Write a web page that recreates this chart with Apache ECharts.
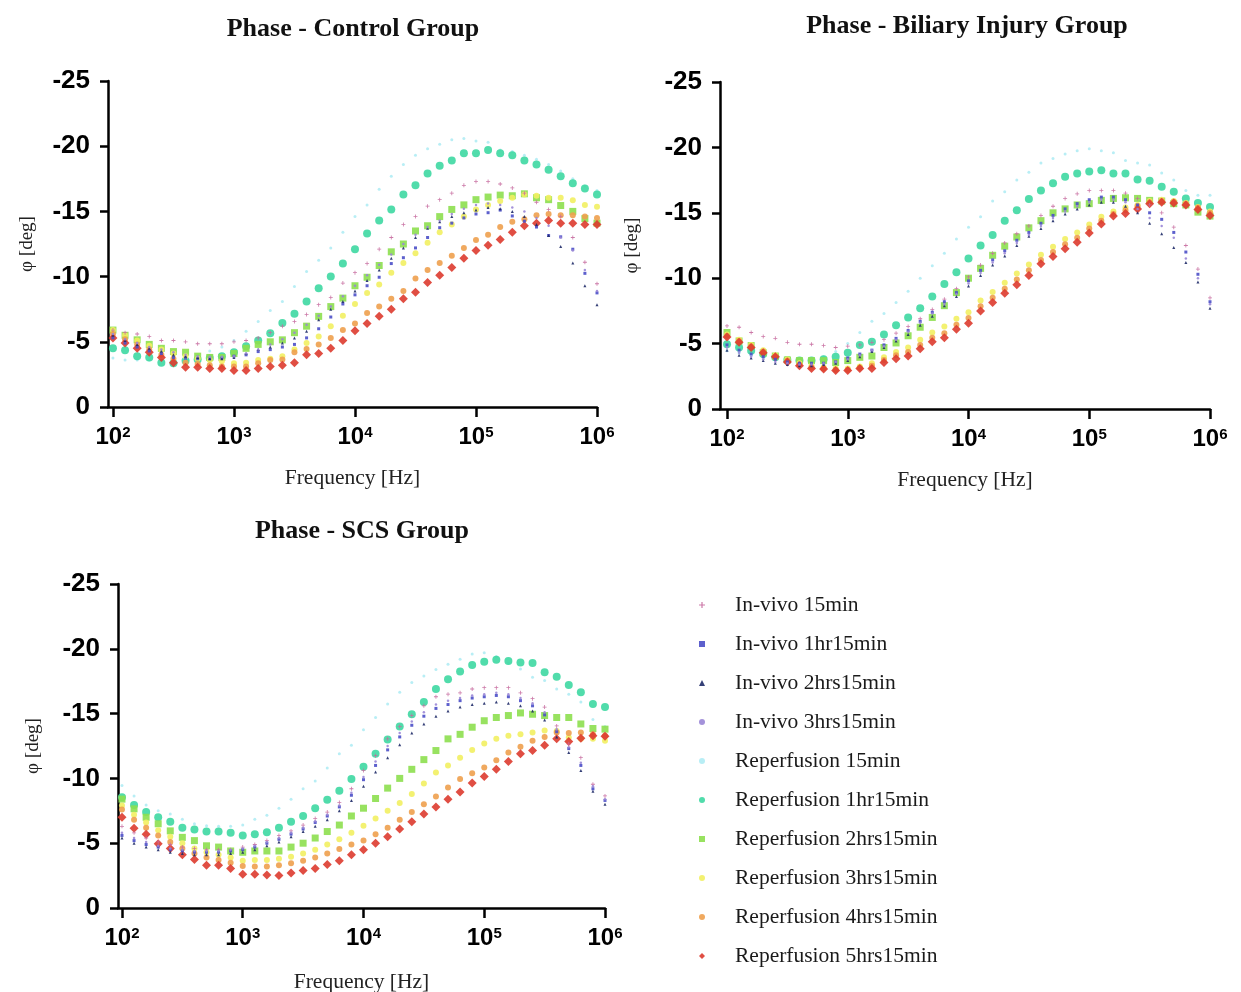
<!DOCTYPE html>
<html>
<head>
<meta charset="utf-8">
<title>Phase</title>
<script src="https://cdn.jsdelivr.net/npm/echarts@6/dist/echarts.min.js"></script>
<style>
  html, body { margin: 0; padding: 0; background: #fff; }
  #chart { width: 1241px; height: 992px; }
</style>
</head>
<body>
<div id="chart"></div>
<script>
// frequency sweep, 10 points per decade (Hz)
const freqHz = [100, 125.9, 158.5, 199.5, 251.2, 316.2, 398.1, 501.2, 631, 794.3,
  1000, 1259, 1585, 1995, 2512, 3162, 3981, 5012, 6310, 7943,
  10000, 12589, 15849, 19953, 25119, 31623, 39811, 50119, 63096, 79433,
  100000, 125893, 158489, 199526, 251189, 316228, 398107, 501187, 630957, 794328, 1000000]
const xTickValues = [100, 1000, 10000, 100000, 1000000]

const seriesNames = ['In-vivo 15min', 'In-vivo 1hr15min', 'In-vivo 2hrs15min', 'In-vivo 3hrs15min',
  'Reperfusion 15min', 'Reperfusion 1hr15min', 'Reperfusion 2hrs15min', 'Reperfusion 3hrs15min',
  'Reperfusion 4hrs15min', 'Reperfusion 5hrs15min']
const groupTitles = ['Phase - Control Group', 'Phase - Biliary Injury Group', 'Phase - SCS Group']

// phase [deg] - control group
const c_iv15 = [-5.9, -5.7, -5.6, -5.4, -5.1, -5.1, -5.0, -4.85, -4.85, -4.85, -5.0, -5.1, -5.3, -5.7, -6.2, -6.55, -7.1, -7.85, -8.4, -9.5, -10.3, -11.0, -12.1, -13.0, -14.0, -14.6, -15.4, -15.9, -16.4, -17.0, -17.3, -17.3, -17.1, -16.8, -16.4, -15.7, -15.15, -14.6, -13.0, -11.1, -9.45]
const c_iv1h = [-5.3, -4.9, -4.6, -4.3, -4.1, -3.8, -3.75, -3.7, -3.7, -3.75, -3.9, -4.0, -4.25, -4.4, -4.6, -4.8, -5.3, -6.0, -6.9, -7.9, -8.6, -9.3, -9.95, -11.0, -11.45, -12.2, -13.0, -13.75, -14.1, -14.5, -14.8, -14.9, -15.1, -14.65, -14.25, -13.8, -13.15, -13.05, -12.1, -10.25, -8.75]
const c_iv2h = [-5.5, -5.1, -4.8, -4.5, -4.3, -4.0, -3.9, -3.8, -3.7, -3.7, -3.8, -4.1, -4.4, -4.6, -4.9, -5.3, -5.8, -6.7, -7.5, -8.1, -8.9, -9.7, -10.5, -11.4, -12.2, -13.0, -13.7, -14.2, -14.6, -14.9, -15.1, -15.3, -15.2, -15.0, -14.6, -14.0, -13.15, -12.3, -11.05, -9.3, -7.85]
const c_iv3h = [-5.6, -5.2, -4.9, -4.6, -4.4, -4.2, -4.0, -3.9, -3.85, -3.85, -3.9, -4.1, -4.4, -4.8, -5.2, -5.7, -6.3, -7.0, -7.7, -8.5, -9.3, -10.1, -10.9, -11.7, -12.5, -13.2, -13.8, -14.3, -14.8, -15.2, -15.5, -15.6, -15.5, -15.3, -15.0, -14.5, -13.9, -13.0, -12.0, -10.5, -8.9]
const c_rp15 = [-3.75, -3.6, -3.6, -3.6, -3.6, -3.7, -3.8, -4.0, -4.3, -4.6, -5.1, -5.8, -6.55, -7.4, -8.1, -9.25, -10.4, -11.25, -12.2, -13.4, -14.6, -15.5, -16.7, -17.7, -18.6, -19.3, -19.8, -20.15, -20.5, -20.6, -20.4, -20.3, -19.7, -19.6, -19.3, -19.0, -18.6, -18.1, -17.5, -16.95, -16.6]
const c_rp1h = [-4.5, -4.35, -3.9, -3.8, -3.4, -3.35, -3.55, -3.65, -3.75, -3.9, -4.2, -4.65, -5.1, -5.65, -6.45, -7.15, -8.1, -9.1, -10.0, -11.0, -12.1, -13.3, -14.3, -15.15, -16.3, -17.0, -17.9, -18.5, -18.9, -19.45, -19.45, -19.7, -19.45, -19.3, -18.9, -18.6, -18.2, -17.7, -17.15, -16.75, -16.3]
const c_rp2h = [-5.9, -5.5, -5.15, -4.8, -4.5, -4.25, -4.2, -3.9, -3.8, -3.8, -4.1, -4.5, -4.8, -5.0, -5.15, -5.7, -6.2, -6.95, -7.7, -8.35, -9.3, -9.95, -10.85, -11.9, -12.5, -13.5, -13.9, -14.6, -15.15, -15.5, -15.9, -16.1, -16.25, -16.2, -16.35, -16.05, -15.9, -15.45, -15.0, -14.45, -14.1]
const c_rp3h = [-5.9, -5.5, -5.1, -4.7, -4.4, -4.1, -3.9, -3.7, -3.6, -3.5, -3.35, -3.4, -3.6, -3.7, -3.9, -4.4, -4.9, -5.4, -6.2, -7.0, -7.9, -8.75, -9.4, -10.3, -11.05, -11.8, -12.6, -13.4, -14.0, -14.6, -15.15, -15.5, -15.8, -16.05, -16.3, -16.2, -16.05, -16.05, -15.85, -15.5, -15.35]
const c_rp4h = [-5.6, -5.2, -4.8, -4.4, -4.0, -3.7, -3.4, -3.3, -3.2, -3.1, -3.1, -3.1, -3.35, -3.6, -3.65, -4.2, -4.45, -4.8, -5.3, -5.9, -6.4, -7.2, -7.7, -8.3, -8.9, -9.85, -10.5, -11.05, -11.6, -12.2, -12.8, -13.2, -13.8, -14.2, -14.4, -14.7, -14.8, -14.7, -14.7, -14.6, -14.5]
const c_rp5h = [-5.3, -4.9, -4.5, -4.2, -3.8, -3.4, -3.05, -3.05, -2.95, -2.95, -2.8, -2.8, -2.95, -3.1, -3.2, -3.4, -4.0, -4.1, -4.5, -5.1, -5.85, -6.4, -6.95, -7.5, -8.3, -8.8, -9.55, -10.1, -10.7, -11.4, -12.0, -12.4, -12.85, -13.4, -13.9, -14.1, -14.3, -14.1, -14.1, -14.0, -14.0]

// phase [deg] - biliary injury group
const b_iv15 = [-6.35, -6.25, -5.85, -5.55, -5.4, -5.1, -4.95, -4.95, -4.85, -4.7, -4.8, -4.9, -5.1, -5.3, -5.8, -6.3, -6.9, -7.6, -8.4, -9.2, -10.1, -11.0, -11.9, -12.7, -13.4, -14.0, -14.8, -15.5, -16.1, -16.45, -16.7, -16.7, -16.7, -16.5, -16.1, -15.6, -15.0, -13.9, -12.5, -10.7, -8.5]
const b_iv1h = [-4.9, -4.5, -4.2, -4.0, -3.8, -3.6, -3.5, -3.5, -3.5, -3.6, -3.9, -4.2, -4.5, -4.9, -5.4, -6.0, -6.7, -7.4, -8.2, -8.9, -9.8, -10.6, -11.4, -12.1, -12.9, -13.5, -14.2, -14.8, -15.3, -15.7, -16.0, -16.2, -16.2, -16.0, -15.6, -15.0, -14.5, -13.5, -12.0, -10.3, -8.2]
const b_iv2h = [-4.5, -4.1, -3.9, -3.7, -3.5, -3.4, -3.3, -3.3, -3.4, -3.5, -3.7, -4.0, -4.4, -4.7, -5.2, -5.7, -6.4, -7.1, -7.9, -8.6, -9.4, -10.2, -11.0, -11.7, -12.5, -13.2, -13.8, -14.4, -14.9, -15.3, -15.6, -15.8, -15.8, -15.5, -15.0, -14.2, -13.4, -12.35, -11.2, -9.7, -7.7]
const b_iv3h = [-4.7, -4.3, -4.0, -3.8, -3.6, -3.5, -3.4, -3.4, -3.5, -3.6, -3.8, -4.1, -4.5, -4.8, -5.3, -5.9, -6.6, -7.3, -8.0, -8.8, -9.6, -10.4, -11.2, -11.9, -12.7, -13.3, -14.0, -14.6, -15.1, -15.5, -15.8, -16.0, -16.0, -15.8, -15.3, -14.6, -14.0, -13.1, -11.5, -10.0, -8.0]
const b_rp15 = [-4.45, -4.3, -4.1, -3.9, -3.8, -3.7, -3.7, -3.8, -4.0, -4.4, -5.0, -5.85, -6.7, -7.3, -8.15, -9.0, -10.0, -10.95, -11.9, -13.0, -13.9, -14.7, -15.9, -16.6, -17.5, -18.1, -18.8, -19.15, -19.5, -19.75, -19.9, -19.75, -19.6, -19.0, -18.8, -18.65, -18.05, -17.5, -16.7, -16.35, -16.35]
const b_rp1h = [-4.95, -4.7, -4.45, -4.2, -3.95, -3.75, -3.7, -3.7, -3.8, -4.0, -4.3, -4.9, -5.15, -5.7, -6.4, -7.0, -7.7, -8.6, -9.55, -10.45, -11.5, -12.5, -13.3, -14.4, -15.2, -16.05, -16.7, -17.25, -17.75, -18.0, -18.15, -18.25, -18.0, -18.0, -17.55, -17.45, -17.0, -16.6, -16.1, -15.75, -15.45]
const b_rp2h = [-5.85, -5.2, -4.85, -4.3, -4.05, -3.75, -3.7, -3.7, -3.7, -3.55, -3.7, -3.95, -4.05, -4.7, -5.05, -5.6, -6.25, -7.0, -7.9, -8.9, -10.0, -10.75, -11.75, -12.45, -13.15, -13.85, -14.4, -15.0, -15.3, -15.6, -15.7, -15.95, -16.1, -16.15, -16.1, -15.95, -15.9, -15.7, -15.6, -15.05, -14.75]
const b_rp3h = [-5.7, -5.3, -4.9, -4.5, -4.1, -3.8, -3.5, -3.3, -3.2, -3.1, -3.1, -3.25, -3.5, -3.95, -4.35, -4.7, -5.3, -5.85, -6.3, -6.9, -7.4, -8.3, -8.95, -9.65, -10.35, -11.05, -11.8, -12.4, -13.0, -13.5, -14.1, -14.7, -15.1, -15.4, -15.6, -15.9, -16.0, -15.9, -15.75, -15.45, -15.1]
const b_rp4h = [-5.6, -5.2, -4.8, -4.4, -4.0, -3.7, -3.4, -3.2, -3.1, -3.0, -3.0, -3.15, -3.3, -3.75, -4.1, -4.35, -4.9, -5.45, -5.8, -6.45, -6.95, -7.85, -8.5, -9.2, -9.9, -10.6, -11.4, -12.0, -12.6, -13.1, -13.8, -14.4, -14.9, -15.2, -15.5, -15.8, -15.9, -15.85, -15.7, -15.4, -15.0]
const b_rp5h = [-5.5, -5.1, -4.7, -4.3, -4.0, -3.6, -3.3, -3.1, -3.05, -2.95, -2.95, -3.1, -3.1, -3.55, -3.85, -4.05, -4.6, -5.15, -5.45, -6.1, -6.55, -7.5, -8.15, -8.85, -9.5, -10.2, -11.1, -11.65, -12.25, -12.75, -13.45, -14.15, -14.75, -14.95, -15.3, -15.7, -15.8, -15.75, -15.6, -15.25, -14.8]

// phase [deg] - SCS group
const s_iv15 = [-6.3, -5.8, -5.4, -5.1, -4.9, -4.7, -4.6, -4.5, -4.5, -4.5, -4.7, -4.9, -5.2, -5.6, -5.95, -6.4, -6.9, -7.4, -8.15, -9.2, -10.6, -11.75, -13.05, -14.0, -14.85, -15.6, -16.3, -16.5, -16.6, -16.9, -17.0, -17.0, -17.0, -16.6, -16.15, -15.5, -14.05, -12.65, -11.6, -9.55, -8.65]
const s_iv1h = [-5.6, -5.2, -4.9, -4.7, -4.5, -4.4, -4.3, -4.3, -4.3, -4.4, -4.5, -4.7, -5.0, -5.3, -5.7, -6.1, -6.6, -7.1, -7.8, -8.7, -9.9, -11.0, -12.2, -13.2, -14.1, -14.8, -15.4, -15.7, -16.0, -16.2, -16.3, -16.4, -16.3, -16.0, -15.6, -14.9, -13.6, -12.3, -11.0, -9.2, -8.3]
const s_iv2h = [-5.4, -5.0, -4.7, -4.5, -4.3, -4.2, -4.1, -4.1, -4.1, -4.2, -4.3, -4.5, -4.8, -5.1, -5.5, -5.9, -6.3, -6.8, -7.5, -8.3, -9.4, -10.5, -11.6, -12.6, -13.5, -14.2, -14.8, -15.2, -15.5, -15.7, -15.8, -15.9, -15.8, -15.6, -15.2, -14.5, -13.2, -12.0, -10.6, -9.0, -8.0]
const s_iv3h = [-5.8, -5.4, -5.1, -4.8, -4.6, -4.5, -4.4, -4.4, -4.4, -4.5, -4.6, -4.8, -5.1, -5.4, -5.8, -6.2, -6.7, -7.2, -7.9, -8.9, -10.1, -11.3, -12.5, -13.5, -14.4, -15.1, -15.7, -16.0, -16.2, -16.4, -16.5, -16.6, -16.5, -16.2, -15.8, -15.1, -13.8, -12.4, -11.2, -9.4, -8.4]
const s_rp15 = [-9.45, -8.65, -7.95, -7.5, -7.25, -6.85, -6.5, -6.35, -6.3, -6.3, -6.4, -6.85, -7.15, -7.7, -8.4, -9.2, -9.8, -10.8, -11.9, -12.55, -13.75, -14.7, -15.75, -16.65, -17.4, -17.9, -18.4, -18.8, -19.2, -19.6, -19.7, -19.4, -18.9, -18.45, -17.8, -17.55, -16.9, -16.5, -15.9, -14.55, -14.0]
const s_rp1h = [-8.55, -7.95, -7.4, -7.0, -6.65, -6.2, -6.05, -5.9, -5.9, -5.8, -5.6, -5.7, -5.85, -6.2, -6.65, -7.1, -7.7, -8.35, -9.05, -9.95, -10.9, -11.9, -13.0, -14.0, -14.95, -15.9, -16.9, -17.65, -18.25, -18.75, -19.0, -19.15, -19.05, -18.95, -18.9, -18.2, -17.85, -17.2, -16.65, -15.75, -15.5]
const s_rp2h = [-8.4, -7.65, -7.0, -6.5, -5.95, -5.45, -5.2, -4.8, -4.7, -4.4, -4.3, -4.4, -4.4, -4.4, -4.7, -5.0, -5.4, -5.9, -6.4, -7.1, -7.7, -8.45, -9.25, -10.0, -10.7, -11.45, -12.15, -13.05, -13.4, -13.95, -14.45, -14.7, -14.85, -15.05, -14.95, -14.85, -14.7, -14.7, -14.2, -13.85, -13.8]
const s_rp3h = [-7.9, -7.2, -6.6, -6.0, -5.5, -5.0, -4.6, -4.3, -4.1, -3.9, -3.65, -3.7, -3.7, -3.8, -3.95, -4.2, -4.5, -4.9, -5.3, -5.8, -6.35, -6.9, -7.5, -8.1, -8.8, -9.6, -10.45, -11.0, -11.6, -12.2, -12.7, -13.05, -13.3, -13.4, -13.55, -13.7, -13.65, -13.15, -13.05, -13.05, -12.9]
const s_rp4h = [-7.6, -6.8, -6.2, -5.6, -5.1, -4.6, -4.2, -3.9, -3.7, -3.5, -3.25, -3.2, -3.2, -3.3, -3.45, -3.65, -3.9, -4.2, -4.55, -4.9, -5.2, -5.7, -6.2, -6.8, -7.4, -8.0, -8.6, -9.3, -9.95, -10.4, -10.85, -11.4, -12.0, -12.45, -12.9, -13.2, -13.55, -13.5, -13.55, -13.4, -13.3]
const s_rp5h = [-7.0, -6.15, -5.7, -4.95, -4.6, -4.1, -3.75, -3.3, -3.3, -3.05, -2.6, -2.6, -2.55, -2.5, -2.7, -2.9, -3.05, -3.35, -3.65, -4.1, -4.5, -5.0, -5.5, -6.1, -6.65, -7.25, -7.8, -8.4, -8.95, -9.65, -10.15, -10.7, -11.3, -11.9, -12.15, -12.55, -13.05, -12.85, -13.1, -13.3, -13.25]

const groupData = [
  [c_iv15, c_iv1h, c_iv2h, c_iv3h, c_rp15, c_rp1h, c_rp2h, c_rp3h, c_rp4h, c_rp5h],
  [b_iv15, b_iv1h, b_iv2h, b_iv3h, b_rp15, b_rp1h, b_rp2h, b_rp3h, b_rp4h, b_rp5h],
  [s_iv15, s_iv1h, s_iv2h, s_iv3h, s_rp15, s_rp1h, s_rp2h, s_rp3h, s_rp4h, s_rp5h]
]

const PLUS = 'path://M4,0H6V4H10V6H6V10H4V6H0V4H4Z'
const markStyles = [
  { symbol: PLUS, size: 4, color: '#c66a9e', z: 5 },
  { symbol: 'rect', size: 3, color: '#4b4fc8', z: 5 },
  { symbol: 'triangle', size: 3, color: '#1f2b68', z: 5 },
  { symbol: 'circle', size: 2.5, color: '#9a86d6', z: 5 },
  { symbol: 'circle', size: 3, color: '#b0ecf4', z: 2 },
  { symbol: 'circle', size: 8, color: '#3ed8a2', z: 2 },
  { symbol: 'rect', size: 7, color: '#8ddf4f', z: 3 },
  { symbol: 'circle', size: 6, color: '#f2ef62', z: 3 },
  { symbol: 'circle', size: 6, color: '#eea04e', z: 3 },
  { symbol: 'diamond', size: 9, color: '#dd3b2f', z: 4 }
]

// panel placement in the 1241x992 canvas
const panels = [
  { left: 108, top: 81, width: 489, height: 326, xMin: 91, titleX: 348, titleY: 11, yNameGap: 71, xNameGap: 60 },
  { left: 720, top: 82, width: 490, height: 327, xMin: 87.5, titleX: 962, titleY: 8, yNameGap: 78, xNameGap: 60 },
  { left: 118, top: 584, width: 487, height: 324, xMin: 92.7, titleX: 357, titleY: 513, yNameGap: 75, xNameGap: 63 }
]

const chart = echarts.init(document.getElementById('chart'), null, { renderer: 'canvas' })

const axisLineStyle = { color: '#000', width: 2.5 }

const option = {
  backgroundColor: '#fff',
  animation: false,
  title: panels.map((p, i) => ({
    text: groupTitles[i],
    left: p.titleX,
    top: p.titleY,
    textAlign: 'center',
    textStyle: { fontFamily: 'Liberation Serif', fontWeight: 'bold', fontSize: 26, color: '#111' }
  })),
  legend: {
    orient: 'vertical',
    left: 694,
    top: 589,
    itemWidth: 6,
    itemHeight: 6,
    itemGap: 17,
    symbolKeepAspect: true,
    data: seriesNames,
    formatter: name => '{gap|}' + name,
    textStyle: {
      fontFamily: 'Liberation Serif',
      fontSize: 21.5,
      color: '#1a1a1a',
      rich: { gap: { width: 25 } }
    }
  },
  grid: panels.map(p => ({ left: p.left, top: p.top, width: p.width, height: p.height, outerBoundsMode: 'none' })),
  xAxis: panels.map((p, i) => ({
    type: 'log',
    logBase: 10,
    gridIndex: i,
    min: p.xMin,
    max: 1000000,
    name: 'Frequency [Hz]',
    nameLocation: 'middle',
    nameGap: p.xNameGap,
    nameTextStyle: { fontFamily: 'Liberation Serif', fontSize: 21.5, color: '#222' },
    axisLine: { onZero: false, lineStyle: axisLineStyle },
    axisTick: { show: true, length: 10, lineStyle: axisLineStyle, customValues: xTickValues },
    axisLabel: {
      customValues: xTickValues,
      margin: 18,
      color: '#000',
      fontFamily: 'Liberation Sans',
      fontWeight: 'bold',
      fontSize: 24,
      formatter: v => '10{sup|' + Math.round(Math.log10(v)) + '}',
      rich: {
        sup: { fontFamily: 'Liberation Sans', fontWeight: 'bold', fontSize: 15, verticalAlign: 'top', color: '#000' }
      }
    },
    splitLine: { show: false },
    minorTick: { show: false }
  })),
  yAxis: panels.map((p, i) => ({
    type: 'value',
    gridIndex: i,
    min: -25,
    max: 0,
    interval: 5,
    inverse: true,
    name: 'φ [deg]',
    nameLocation: 'middle',
    nameGap: p.yNameGap,
    nameRotate: 90,
    nameTextStyle: { fontFamily: 'Liberation Serif', fontSize: 19, color: '#222' },
    axisLine: { show: true, onZero: false, lineStyle: axisLineStyle },
    axisTick: { show: true, length: 8, lineStyle: axisLineStyle },
    axisLabel: { margin: 18, color: '#000', fontFamily: 'Liberation Sans', fontWeight: 'bold', fontSize: 26 },
    splitLine: { show: false }
  })),
  series: []
}

groupData.forEach((arrs, g) => {
  arrs.forEach((vals, k) => {
    const st = markStyles[k]
    option.series.push({
      type: 'scatter',
      name: seriesNames[k],
      xAxisIndex: g,
      yAxisIndex: g,
      symbol: st.symbol,
      symbolSize: st.size,
      symbolKeepAspect: true,
      z: st.z,
      itemStyle: { color: st.color, opacity: 0.9 },
      emphasis: { disabled: true },
      data: vals.map((v, j) => [freqHz[j], v])
    })
  })
})

chart.setOption(option)
</script>
</body>
</html>
